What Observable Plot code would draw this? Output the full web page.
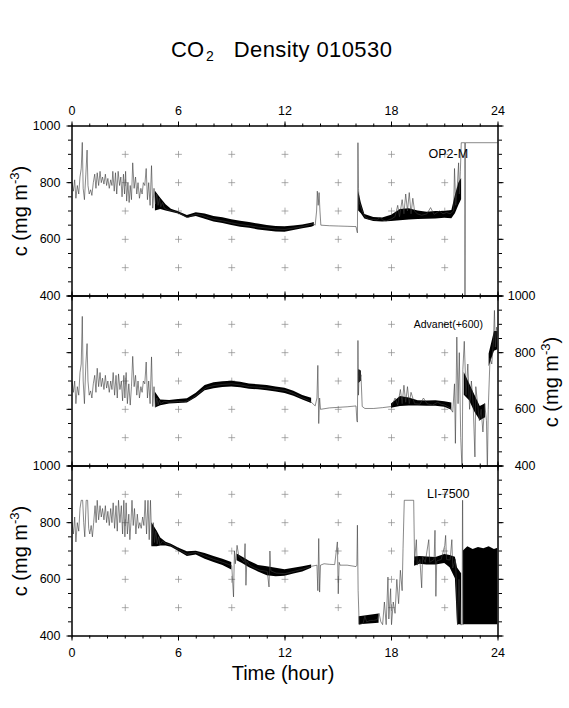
<!DOCTYPE html>
<html><head><meta charset="utf-8">
<script src="https://cdn.jsdelivr.net/npm/d3@7"></script>
<script src="https://cdn.jsdelivr.net/npm/@observablehq/plot@0.6"></script>
<style>
body{margin:0;background:#fff;}
#page{position:relative;width:569px;height:708px;overflow:hidden;font-family:"Liberation Sans",Arial,Helvetica,sans-serif;color:#000;}
#page svg{position:absolute;left:0;top:0;}
.txt{position:absolute;white-space:nowrap;font-size:20px;line-height:20px;}
.rot{transform:translate(-50%,-50%) rotate(-90deg);}
sup{font-size:13px;vertical-align:8px;line-height:0;}
sub{font-size:14px;vertical-align:-3.5px;line-height:0;}
</style></head>
<body><div id="page"></div>
<script>
// ---- axis / grid values ----
const majorHours = [0, 6, 12, 18, 24];
const minorHours = d3.range(0, 25, 1);
const crossHours = [3, 6, 9, 12, 15, 18, 21];
const majorLevels = [400, 600, 800, 1000];
const minorLevels = d3.range(400, 1001, 50);
const crossLevels = [500, 600, 700, 800, 900];
const panelNames = ["OP2-M", "Advanet(+600)", "LI-7500"];

// ---- OP2-M trace [hour, mg m-3] ----
const op2Trace = [[0,800],[0.08,770],[0.15,810],[0.22,745],[0.30,790],[0.38,760],[0.45,820],[0.52,850],[0.58,942],[0.63,780],[0.70,740],[0.78,830],[0.85,915],[0.90,790],[0.97,760],[1.05,775],[1.12,755],[1.20,800],[1.28,830],[1.35,780],[1.42,835],[1.50,790],[1.58,840],[1.65,800],[1.72,820],[1.80,795],[1.88,830],[1.95,790],[2.02,815],[2.10,780],[2.18,810],[2.25,790],[2.30,840],[2.38,770],[2.45,835],[2.52,760],[2.60,840],[2.68,790],[2.75,820],[2.82,750],[2.90,830],[2.96,760],[3.02,840],[3.08,735],[3.15,800],[3.22,730],[3.28,790],[3.35,740],[3.42,870],[3.50,780],[3.58,820],[3.65,760],[3.72,800],[3.80,745],[3.88,780],[3.95,760],[4.02,800],[4.10,790],[4.18,850],[4.25,740],[4.32,800],[4.40,720],[4.48,860],[4.55,710],[4.62,780],[4.70,725],[4.78,760],[4.85,720],[4.92,745],[5.00,715],[5.10,730],[5.20,710],[5.35,705],[5.50,702],[5.70,700],[6.00,693],[6.20,688],[6.40,680],[6.55,677],[6.70,683],[7.00,688],[7.30,685],[7.60,678],[8.00,670],[8.50,665],[9.00,658],[9.50,652],[10.00,648],[10.50,643],[11.00,640],[11.50,636],[12.00,635],[12.50,640],[13.00,645],[13.40,652],[13.60,655],[13.70,650],[13.78,700],[13.82,770],[13.87,720],[13.92,765],[13.97,700],[14.02,650],[14.50,648],[15.00,647],[15.50,646],[16.00,645],[16.05,630],[16.08,623],[16.11,941],[16.14,780],[16.18,730],[16.25,720],[16.35,700],[16.50,680],[16.70,672],[17.00,670],[17.20,668],[17.35,678],[17.50,668],[17.70,665],[18.00,672],[18.20,680],[18.35,720],[18.45,680],[18.60,740],[18.70,690],[18.80,760],[18.90,700],[19.00,765],[19.10,690],[19.20,745],[19.30,700],[19.45,690],[19.70,685],[20.00,690],[20.20,712],[20.40,688],[20.70,700],[20.90,690],[21.10,695],[21.30,690],[21.50,700],[21.55,850],[21.62,720],[21.70,780],[21.78,870],[21.82,760],[21.88,840],[21.93,941],[22.13,941],[22.14,380],[22.16,941],[24.00,941]];
// dense band [hour, low, high]; null = gap
const op2Band = [[4.70,700,770],[5.00,705,745],[5.30,700,722],[5.60,696,706],[6.00,689,697],[6.50,674,684],[7.00,681,694],[7.50,671,689],[8.00,661,681],[8.50,656,676],[9.00,649,669],[9.50,643,664],[10.00,639,659],[10.50,633,654],[11.00,629,649],[11.50,626,645],[12.00,625,644],[12.50,631,647],[13.00,637,651],[13.50,643,657],[13.65,646,659],null,[16.15,700,770],[16.30,690,728],[16.50,672,688],[17.00,663,677],[17.50,661,675],[18.00,663,685],[18.50,666,705],[19.00,668,708],[19.50,670,700],[20.00,671,696],[20.50,672,698],[21.00,674,698],[21.40,673,702],[21.60,690,755],[21.80,720,800],[21.95,740,815]];

// ---- Advanet (+600) trace ----
const advTrace = [[0,700],[0.08,660],[0.15,700],[0.22,620],[0.30,680],[0.38,650],[0.45,730],[0.52,760],[0.58,928],[0.63,700],[0.70,620],[0.78,760],[0.85,832],[0.90,700],[0.97,650],[1.05,665],[1.12,640],[1.20,690],[1.28,720],[1.35,660],[1.42,745],[1.50,680],[1.58,730],[1.65,680],[1.72,710],[1.80,670],[1.88,720],[1.95,675],[2.02,700],[2.10,660],[2.18,700],[2.25,670],[2.32,730],[2.40,650],[2.48,720],[2.55,640],[2.62,725],[2.70,670],[2.78,700],[2.85,630],[2.92,720],[2.98,640],[3.05,730],[3.12,620],[3.20,690],[3.28,615],[3.35,680],[3.42,787],[3.50,680],[3.58,720],[3.65,650],[3.72,700],[3.80,640],[3.88,680],[3.95,660],[4.02,700],[4.10,690],[4.18,767],[4.25,640],[4.32,700],[4.40,620],[4.48,785],[4.55,610],[4.62,680],[4.70,608],[4.78,640],[4.85,615],[4.92,632],[5.00,620],[5.20,628],[5.50,625],[6.00,628],[6.30,626],[6.60,632],[6.80,640],[7.00,650],[7.30,665],[7.60,677],[8.00,684],[8.50,688],[9.00,690],[9.50,686],[10.00,680],[10.50,678],[11.00,675],[11.50,670],[12.00,667],[12.50,655],[13.00,640],[13.40,630],[13.70,612],[13.80,640],[13.85,755],[13.90,550],[13.95,640],[14.00,600],[14.50,605],[15.00,607],[15.50,609],[16.00,612],[16.05,560],[16.08,555],[16.11,843],[16.14,650],[16.18,740],[16.22,700],[16.28,722],[16.35,610],[16.50,603],[17.00,603],[17.50,606],[18.00,610],[18.20,640],[18.35,615],[18.50,670],[18.60,620],[18.70,685],[18.80,625],[18.90,680],[19.00,620],[19.10,660],[19.30,620],[19.60,618],[19.80,640],[20.00,620],[20.30,615],[20.60,625],[20.80,618],[21.00,615],[21.30,605],[21.45,590],[21.55,690],[21.60,480],[21.68,855],[21.75,620],[21.82,800],[21.90,500],[21.98,380],[22.02,740],[22.10,840],[22.20,650],[22.30,760],[22.40,600],[22.50,700],[22.60,620],[22.70,432],[22.75,680],[22.85,620],[22.95,560],[23.05,600],[23.15,520],[23.25,620],[23.35,560],[23.40,380],[23.45,600],[23.55,780],[23.65,760],[23.75,850],[23.80,949],[23.85,820],[23.92,890],[24.00,860]];
const advBand = [[4.70,605,660],[5.00,613,633],[5.50,619,631],[6.00,621,635],[6.50,622,637],[7.00,641,657],[7.50,666,684],[8.00,673,694],[8.50,677,697],[9.00,679,699],[9.50,676,696],[10.00,671,689],[10.50,669,687],[11.00,666,684],[11.50,661,679],[12.00,656,674],[12.50,646,664],[13.00,633,649],[13.50,621,639],null,[16.15,690,740],[16.30,700,735],null,[18.00,604,619],[18.50,610,645],[19.00,612,640],[19.50,612,630],[20.00,611,629],[20.50,611,630],[21.00,607,627],[21.40,597,622],null,[22.10,650,730],[22.40,630,690],[22.70,590,650],[23.00,560,610],[23.30,570,620],null,[23.50,750,795],[23.80,805,875],[24.00,810,875]];

// ---- LI-7500 trace ----
const liTrace = [[0,800],[0.08,760],[0.15,820],[0.22,732],[0.30,800],[0.38,770],[0.45,850],[0.52,879],[0.60,879],[0.66,800],[0.72,750],[0.80,879],[0.88,879],[0.94,780],[1.00,760],[1.08,790],[1.15,750],[1.22,800],[1.30,860],[1.36,800],[1.42,879],[1.50,810],[1.58,860],[1.65,820],[1.72,850],[1.80,810],[1.88,860],[1.95,800],[2.02,840],[2.10,790],[2.18,850],[2.25,800],[2.32,870],[2.40,780],[2.48,860],[2.55,770],[2.62,879],[2.70,800],[2.78,860],[2.85,760],[2.92,879],[2.98,750],[3.05,870],[3.12,760],[3.20,830],[3.26,740],[3.32,800],[3.38,879],[3.45,790],[3.52,850],[3.60,760],[3.68,830],[3.75,780],[3.82,800],[3.90,780],[3.98,820],[4.05,790],[4.12,879],[4.20,760],[4.28,879],[4.35,740],[4.42,879],[4.50,720],[4.58,800],[4.65,730],[4.72,770],[4.80,725],[4.88,750],[4.95,722],[5.10,735],[5.30,725],[5.50,722],[5.80,712],[6.00,705],[6.30,695],[6.50,688],[6.70,692],[7.00,695],[7.50,682],[8.00,670],[8.50,660],[9.00,648],[9.10,538],[9.15,700],[9.20,655],[9.30,720],[9.40,680],[9.50,676],[9.70,660],[9.75,726],[9.80,579],[9.85,665],[10.00,650],[10.30,640],[10.60,632],[11.00,628],[11.10,573],[11.15,700],[11.20,630],[11.50,622],[12.00,620],[12.50,628],[13.00,636],[13.50,646],[13.80,650],[13.85,560],[13.90,744],[13.95,555],[14.00,650],[14.20,655],[14.50,653],[14.80,652],[14.95,732],[15.00,549],[15.05,660],[15.10,650],[15.50,650],[16.00,645],[16.05,650],[16.08,791],[16.12,560],[16.18,440],[16.40,445],[16.50,470],[16.60,450],[16.80,455],[17.00,455],[17.20,458],[17.30,480],[17.40,450],[17.50,440],[17.60,520],[17.70,440],[17.80,608],[17.85,460],[17.95,567],[18.00,440],[18.10,520],[18.20,480],[18.30,600],[18.40,514],[18.50,632],[18.60,560],[18.65,708],[18.72,879],[19.25,879],[19.30,667],[19.40,740],[19.45,650],[19.60,670],[19.70,570],[19.75,680],[19.90,660],[20.10,740],[20.15,660],[20.40,670],[20.45,773],[20.50,540],[20.55,665],[20.80,670],[21.00,720],[21.05,755],[21.10,670],[21.30,668],[21.40,740],[21.45,640],[21.60,670],[21.65,600],[21.72,440],[21.80,600],[21.90,440],[21.98,440],[22.00,879],[22.01,879],[22.03,440]];
const liBand = [[4.50,715,800],[4.80,715,770],[5.00,718,746],[5.30,718,731],[5.60,713,724],[6.00,699,711],[6.50,681,697],[7.00,686,699],[7.50,671,691],[8.00,659,681],[8.50,649,671],[9.00,633,659],null,[9.30,666,689],[9.60,656,679],[10.00,641,664],[10.50,626,649],[11.00,613,644],[11.50,609,639],[12.00,611,634],[12.50,619,639],[13.00,626,644],[13.50,639,651],null,[16.18,440,468],[17.30,445,478],null,[19.30,646,679],[19.60,653,681],[20.00,651,679],[20.50,651,677],[21.00,656,688],[21.30,641,684],[21.60,602,678],[21.72,440,640],[21.95,440,620],null,[22.05,440,700],[22.30,440,715],[22.60,440,705],[22.90,440,712],[23.20,440,708],[23.50,440,715],[23.80,440,705],[24.00,440,710]];

// ---- helpers ----
const toTrace = rows => rows.map(([t, v]) => ({t, v}));
function toBand(rows) {
  let seg = 0; const out = [];
  for (const r of rows) { if (r === null) { seg++; continue; } out.push({t: r[0], lo: r[1], hi: r[2], seg}); }
  return out;
}
const crossPts = crossHours.flatMap(t => crossLevels.map(v => ({t, v})));
const crossSymbol = {draw(ctx, size) { const r = Math.sqrt(size / Math.PI); ctx.moveTo(-r, 0); ctx.lineTo(r, 0); ctx.moveTo(0, -r); ctx.lineTo(0, r); }};
const noText = () => "";
const plain = d => String(d);

function panel({trace, band, name, nameSize, top, topLabels, bottomLabels, leftLabels, rightLabels}) {
  const H = 170;
  return Plot.plot({
    width: 569, height: 708,
    marginLeft: 71.5, marginRight: 71.5, marginTop: top, marginBottom: 708 - top - H,
    x: {domain: [0, 24], label: null},
    y: {domain: [400, 1000], label: null},
    style: {background: "transparent", overflow: "visible", fontFamily: '"Liberation Sans", Arial, sans-serif', fontSize: "12.5px", color: "black"},
    marks: [
      Plot.dot(crossPts, {x: "t", y: "v", r: 3.4, symbol: crossSymbol, fill: "none", stroke: "#8a8a8a", strokeWidth: 0.7}),
      Plot.areaY(toBand(band), {x: "t", y1: "lo", y2: "hi", z: "seg", fill: "black", clip: true}),
      Plot.line(toTrace(trace), {x: "t", y: "v", stroke: "#3a3a3a", strokeWidth: 0.6, clip: true}),
      Plot.text([name], {x: 21.2, y: 900, text: d => d, fontSize: nameSize, textAnchor: "middle"}),
      Plot.axisX(majorHours, {anchor: "top", tickSize: 5, tickPadding: 6.5, tickFormat: topLabels ? plain : noText, label: null}),
      Plot.axisX(minorHours, {anchor: "top", tickSize: 3, tickFormat: noText, label: null}),
      Plot.axisX(majorHours, {anchor: "bottom", tickSize: 5, tickPadding: 7, tickFormat: bottomLabels ? plain : noText, label: null}),
      Plot.axisX(minorHours, {anchor: "bottom", tickSize: 3, tickFormat: noText, label: null}),
      Plot.axisY(majorLevels, {anchor: "left", tickSize: 5, tickPadding: 6.5, tickFormat: leftLabels ? plain : noText, label: null}),
      Plot.axisY(minorLevels, {anchor: "left", tickSize: 3.5, tickFormat: noText, label: null}),
      Plot.axisY(majorLevels, {anchor: "right", tickSize: 5, tickPadding: 32.5, textAnchor: "end", tickFormat: rightLabels ? plain : noText, label: null}),
      Plot.axisY(minorLevels, {anchor: "right", tickSize: 3.5, tickFormat: noText, label: null}),
      Plot.frame({stroke: "black", strokeWidth: 1.5})
    ]
  });
}

const page = document.getElementById("page");
page.append(panel({trace: op2Trace, band: op2Band, name: panelNames[0], nameSize: 12.5, top: 125.5, topLabels: true, bottomLabels: false, leftLabels: true, rightLabels: false}));
page.append(panel({trace: advTrace, band: advBand, name: panelNames[1], nameSize: 10.5, top: 295.5, topLabels: false, bottomLabels: false, leftLabels: false, rightLabels: true}));
page.append(panel({trace: liTrace, band: liBand, name: panelNames[2], nameSize: 12.5, top: 465.5, topLabels: false, bottomLabels: true, leftLabels: true, rightLabels: false}));

// ---- titles ----
function addText(html, style, cls) {
  const d = document.createElement("div");
  d.className = "txt" + (cls ? " " + cls : "");
  d.innerHTML = html;
  Object.assign(d.style, style);
  page.append(d);
}
addText('CO<sub style="margin-left:2px">2</sub><span style="margin-left:20px;letter-spacing:0.4px">Density 010530</span>', {left: "171px", top: "39px", fontSize: "22px", lineHeight: "22px"});
const yLabel = 'c (mg m<sup>-3</sup>)';
addText(yLabel, {left: "20px", top: "211px"}, "rot");
addText(yLabel, {left: "20px", top: "551px"}, "rot");
addText(yLabel, {left: "551px", top: "382px"}, "rot");
addText('Time (hour)', {left: "283px", top: "673px", transform: "translate(-50%,-50%)"});
</script>
</body></html>
